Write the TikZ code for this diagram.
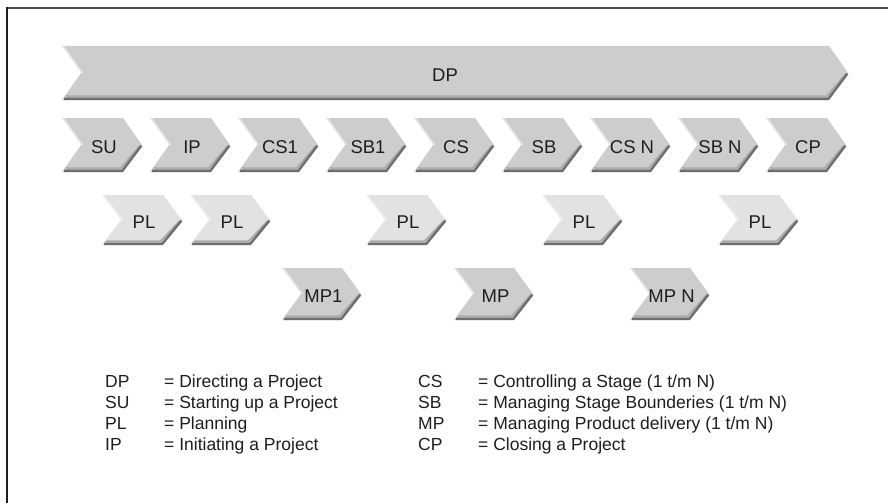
\documentclass[tikz,border=0pt]{standalone}
\usepackage{fontspec}
\setmainfont{Liberation Sans}
\definecolor{chevgray}{HTML}{CDCDCD}
\definecolor{plgray}{HTML}{E2E2E2}
\definecolor{shadegray}{HTML}{6E6E6E}
\definecolor{softgray}{HTML}{ABABAB}
\definecolor{inkgray}{HTML}{1E1E1E}
\definecolor{framegray}{HTML}{505050}
\tikzset{
  chevlabel/.style={text=inkgray, inner sep=0pt, font=\fontsize{18.5}{22}\selectfont},
  keytext/.style={text=inkgray, inner sep=0pt, anchor=base west, font=\fontsize{17.5}{21}\selectfont},
  shadowline/.style={shadegray, line width=2.4pt, line join=round},
  softline/.style={softgray, line width=2pt, line join=round},
  lightedge/.style={white, line width=2.5pt, opacity=0.55},
}
% notch depth of every chevron
\def\dd{19}
% \chev{name}{left}{top}{width}{height}{fill}{label}{label options}
\newcommand\chev[8]{%
  \begin{scope}[shift={(#2,#3)}]
    \fill[#6] (0,0) -- (#4-\dd,0) -- (#4,#5/2) -- (#4-\dd,#5) -- (0,#5) -- (\dd,#5/2) -- cycle;
    \draw[softline] (4,#5-3.6) -- (#4-\dd-2.5,#5-3.6) -- (#4-2.2,#5/2+1);
    \draw[shadowline] (2,#5-1.2) -- (#4-\dd-0.6,#5-1.2) -- (#4-0.6,#5/2+0.6);
    \draw[lightedge] (0.8,0.6) -- (\dd+0.6,#5/2);
    \node[chevlabel,#8] (#1) at (#4/2+2,#5/2+2) {#7};
  \end{scope}}
\begin{document}
\begin{tikzpicture}[x=1pt,y=-1pt]
  \useasboundingbox (0,0) rectangle (888,503);
  \fill[white] (0,0) rectangle (888,503);
  % frame
  \draw[framegray, line width=2pt] (6,8) -- (888,8);
  \draw[inkgray, line width=2pt] (7,7) -- (7,503);

  % directing the project
  \chev{dp}{62}{46}{786}{54}{chevgray}{DP}{xshift=-12pt}

  % main process chain
  \chev{su}{62}{118}{80}{54}{chevgray}{SU}{}
  \chev{ip}{150}{118}{80}{54}{chevgray}{IP}{}
  \chev{csone}{238}{118}{80}{54}{chevgray}{CS1}{}
  \chev{sbone}{326}{118}{80}{54}{chevgray}{SB1}{}
  \chev{cs}{414}{118}{80}{54}{chevgray}{CS}{}
  \chev{sb}{502}{118}{80}{54}{chevgray}{SB}{}
  \chev{csn}{590}{118}{80}{54}{chevgray}{CS N}{}
  \chev{sbn}{678}{118}{80}{54}{chevgray}{SB N}{}
  \chev{cp}{766}{118}{80}{54}{chevgray}{CP}{}

  % planning
  \chev{plA}{102}{195}{80}{50}{plgray}{PL}{}
  \chev{plB}{190}{195}{80}{50}{plgray}{PL}{}
  \chev{plC}{366}{195}{80}{50}{plgray}{PL}{}
  \chev{plD}{542}{195}{80}{50}{plgray}{PL}{}
  \chev{plE}{718}{195}{80}{50}{plgray}{PL}{}

  % managing product delivery
  \chev{mpone}{282}{268}{79}{52}{chevgray}{MP1}{}
  \chev{mp}{454}{268}{79}{52}{chevgray}{MP}{}
  \chev{mpn}{630}{268}{79}{52}{chevgray}{MP N}{}

  % legend
  \node[keytext] (kdp) at (105,387) {\makebox[59pt][l]{DP}= Directing a Project};
  \node[keytext] (ksu) at (105,408) {\makebox[59pt][l]{SU}= Starting up a Project};
  \node[keytext] (kpl) at (105,429) {\makebox[59pt][l]{PL}= Planning};
  \node[keytext] (kip) at (105,450) {\makebox[59pt][l]{IP}= Initiating a Project};
  \node[keytext] (kcs) at (418,387) {\makebox[60pt][l]{CS}= Controlling a Stage (1 t/m N)};
  \node[keytext] (ksb) at (418,408) {\makebox[60pt][l]{SB}= Managing Stage Bounderies (1 t/m N)};
  \node[keytext] (kmp) at (418,429) {\makebox[60pt][l]{MP}= Managing Product delivery (1 t/m N)};
  \node[keytext] (kcp) at (418,450) {\makebox[60pt][l]{CP}= Closing a Project};
\end{tikzpicture}
\end{document}
